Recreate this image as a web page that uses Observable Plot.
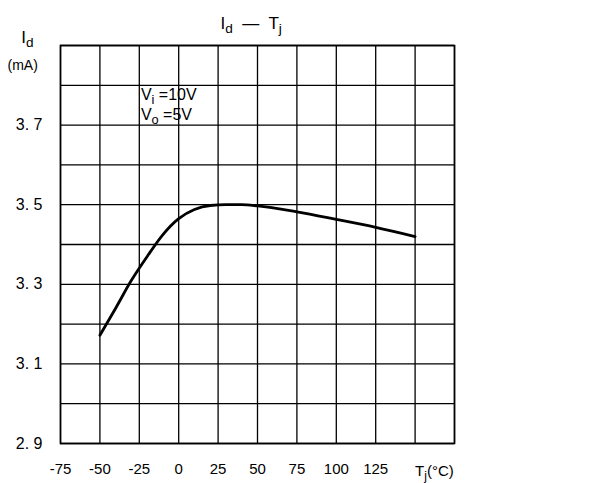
<!DOCTYPE html>
<html><head><meta charset="utf-8">
<script src="https://cdn.jsdelivr.net/npm/d3@7"></script>
<script src="https://cdn.jsdelivr.net/npm/@observablehq/plot@0.6"></script>
<style>
body{margin:0;background:#fff}
svg{font-family:"Liberation Sans",Arial,sans-serif}
</style>
</head><body><div id="chart"></div>
<script>
// Junction temperature (°C) and quiescent current Id (mA)
const temps   = [-50, -40, -30, -20, -10, 0, 10, 20, 30, 40, 50, 75, 100, 125, 150];
const current = [3.172, 3.24, 3.31, 3.37, 3.425, 3.465, 3.488, 3.498, 3.5, 3.5, 3.497, 3.482, 3.463, 3.443, 3.42];

const xGrid = [-75, -50, -25, 0, 25, 50, 75, 100, 125, 150, 175];
const yGrid = [2.9, 3.0, 3.1, 3.2, 3.3, 3.4, 3.5, 3.6, 3.7, 3.8, 3.9];
const xTickValues = [-75, -50, -25, 0, 25, 50, 75, 100, 125];
const xTickLabels = ["-75", "-50", "-25", "0", "25", "50", "75", "100", "125"];
const yTickValues = [2.9, 3.1, 3.3, 3.5, 3.7];
const yTickLabels = ["2. 9", "3. 1", "3. 3", "3. 5", "3. 7"];

const titleText = "I_{d}  —  T_{j}";
const yLabel1 = "I_{d}";
const yLabel2 = "(mA)";
const xLabel = "T_{j}(°C)";
const cond1 = "V_{i} =10V";
const cond2 = "V_{o} =5V";

const points = temps.map((t, i) => ({t, i: current[i]}));
const xLab = new Map(xTickValues.map((v, i) => [v, xTickLabels[i]]));
const yLab = new Map(yTickValues.map((v, i) => [v, yTickLabels[i]]));

const plot = Plot.plot({
  width: 598, height: 483,
  marginLeft: 60, marginRight: 144, marginTop: 45, marginBottom: 40,
  x: {domain: [-75, 175]},
  y: {domain: [2.9, 3.9]},
  style: {fontFamily: '"Liberation Sans", Arial, sans-serif', fontSize: "15px", background: "#fff", color: "#000"},
  marks: [
    Plot.ruleX(xGrid, {stroke: "#000", strokeWidth: 1.3}),
    Plot.ruleY(yGrid, {stroke: "#000", strokeWidth: 1.3}),
    Plot.frame({stroke: "#000", strokeWidth: 1.6}),
    Plot.axisX(xTickValues, {tickSize: 0, tickPadding: 20, tickFormat: d => xLab.get(d), label: null, fontSize: 15}),
    Plot.axisY(yTickValues, {tickSize: 0, tickPadding: 18, tickFormat: d => yLab.get(d), label: null, fontSize: 16}),
    Plot.line(points, {x: "t", y: "i", curve: "monotone-x", stroke: "#000", strokeWidth: 2.8}),
    Plot.text([titleText], {x: 46, y: 3.955, text: d => d, fontSize: 17, className: "subtxt"}),
    Plot.text([yLabel1], {x: -96, y: 3.92, text: d => d, fontSize: 17, className: "subtxt"}),
    Plot.text([yLabel2], {x: -99, y: 3.85, text: d => d, fontSize: 14}),
    Plot.text([cond1], {x: -24, y: 3.775, text: d => d, fontSize: 16, textAnchor: "start", className: "subtxt"}),
    Plot.text([cond2], {x: -24, y: 3.725, text: d => d, fontSize: 16, textAnchor: "start", className: "subtxt"}),
    Plot.text([xLabel], {x: 150, y: 2.83, text: d => d, fontSize: 15, textAnchor: "start", className: "subtxt"})
  ]
});
document.getElementById("chart").appendChild(plot);

// render _{..} as subscripts
d3.select(plot).selectAll("g.subtxt text").each(function() {
  const el = d3.select(this);
  const s = el.text();
  el.text(null);
  const re = /_\{([^}]*)\}/g;
  let last = 0, m;
  while ((m = re.exec(s)) !== null) {
    if (m.index > last) el.append("tspan").text(s.slice(last, m.index));
    el.append("tspan").attr("baseline-shift", "-30%").attr("font-size", "0.8em").text(m[1]);
    last = re.lastIndex;
  }
  if (last < s.length) el.append("tspan").text(s.slice(last));
});
</script>
</body></html>
